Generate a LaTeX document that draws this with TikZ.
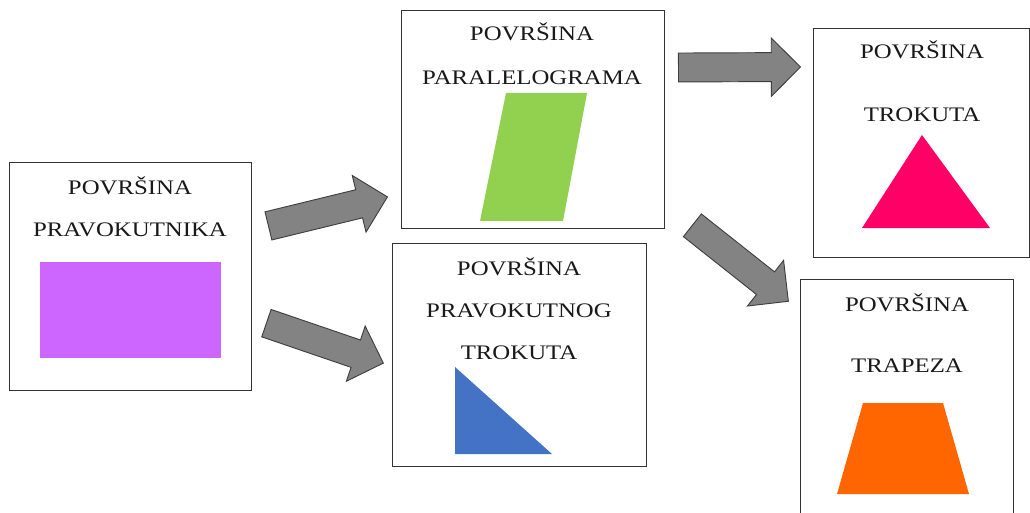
\documentclass[tikz,border=0pt]{standalone}
\usepackage{fontspec}
\setmainfont{Liberation Serif}[FakeStretch=1.2]
\usetikzlibrary{shapes.arrows,calc}
\definecolor{purplefill}{HTML}{CC66FF}
\definecolor{greenfill}{HTML}{92D050}
\definecolor{pinkfill}{HTML}{FF0066}
\definecolor{bluefill}{HTML}{4472C4}
\definecolor{orangefill}{HTML}{FF6600}
\definecolor{arrowfill}{HTML}{838383}
\definecolor{arrowline}{HTML}{3F3F3F}
\definecolor{boxline}{HTML}{333333}
\tikzset{
  box/.style={draw=boxline, line width=0.9pt, fill=white, anchor=north west, inner sep=0pt},
  lbl/.style={anchor=base, inner sep=0pt, font=\fontsize{15.5}{18}\selectfont, text=black!90},
  fatarr/.style={single arrow, draw=arrowline, fill=arrowfill, line width=0.7pt,
    inner sep=0pt, inner ysep=10.5pt, minimum width=0pt,
    single arrow head extend=11pt, single arrow tip angle=90, single arrow head indent=0pt},
}
\newcommand\fatarrow[3]{%
  \path let \p1=(#1), \p2=(#2), \n1={atan2(\y2-\y1,\x2-\x1)}, \n2={veclen(\x2-\x1,\y2-\y1)} in
    node[fatarr, minimum height=\n2, anchor=tail, rotate=\n1] (#3) at (#1) {};}
\begin{document}
\begin{tikzpicture}[x=0.75pt,y=-0.75pt]
\useasboundingbox (0,0) rectangle (1030,513);
\clip (0,0) rectangle (1030,513);
% boxes
\node[box, minimum width=242*0.75pt, minimum height=228*0.75pt] (rect) at (9,162) {};
\node[box, minimum width=263*0.75pt, minimum height=218*0.75pt] (para) at (401,10) {};
\node[box, minimum width=216*0.75pt, minimum height=229*0.75pt] (tri) at (813,28) {};
\node[box, minimum width=213*0.75pt, minimum height=251*0.75pt] (trap) at (800,279) {};
\node[box, minimum width=254*0.75pt, minimum height=223*0.75pt] (rtri) at (392,243) {};
% labels
\node[lbl] (rect1) at (130,195) {POVRŠINA};
\node[lbl] (rect2) at (130,237) {PRAVOKUTNIKA};
\node[lbl] (para1) at (532,41) {POVRŠINA};
\node[lbl] (para2) at (532,85) {PARALELOGRAMA};
\node[lbl] (tri1) at (922,59) {POVRŠINA};
\node[lbl] (tri2) at (922,122) {TROKUTA};
\node[lbl] (rtri1) at (519,275) {POVRŠINA};
\node[lbl] (rtri2) at (519,317) {PRAVOKUTNOG};
\node[lbl] (rtri3) at (519,359) {TROKUTA};
\node[lbl] (trap1) at (907,311) {POVRŠINA};
\node[lbl] (trap2) at (907,372) {TRAPEZA};
% shapes
\fill[purplefill] (40,262) rectangle (221,358);
\fill[greenfill] (506,93) -- (587,93) -- (563,221) -- (480,221) -- cycle;
\fill[pinkfill] (922,135) -- (990,228) -- (862,228) -- cycle;
\fill[bluefill] (455,367) -- (455,454) -- (552,454) -- cycle;
\fill[orangefill] (863,403) -- (943,403) -- (969,494) -- (837,494) -- cycle;
% arrows
\coordinate (a1s) at (268,226); \coordinate (a1e) at (387,197);
\coordinate (a2s) at (266,323); \coordinate (a2e) at (383,363);
\coordinate (a3s) at (678,67.5); \coordinate (a3e) at (800,67);
\coordinate (a4s) at (692,225); \coordinate (a4e) at (788,301);
\fatarrow{a1s}{a1e}{arr1}
\fatarrow{a2s}{a2e}{arr2}
\fatarrow{a3s}{a3e}{arr3}
\fatarrow{a4s}{a4e}{arr4}
\end{tikzpicture}
\end{document}
